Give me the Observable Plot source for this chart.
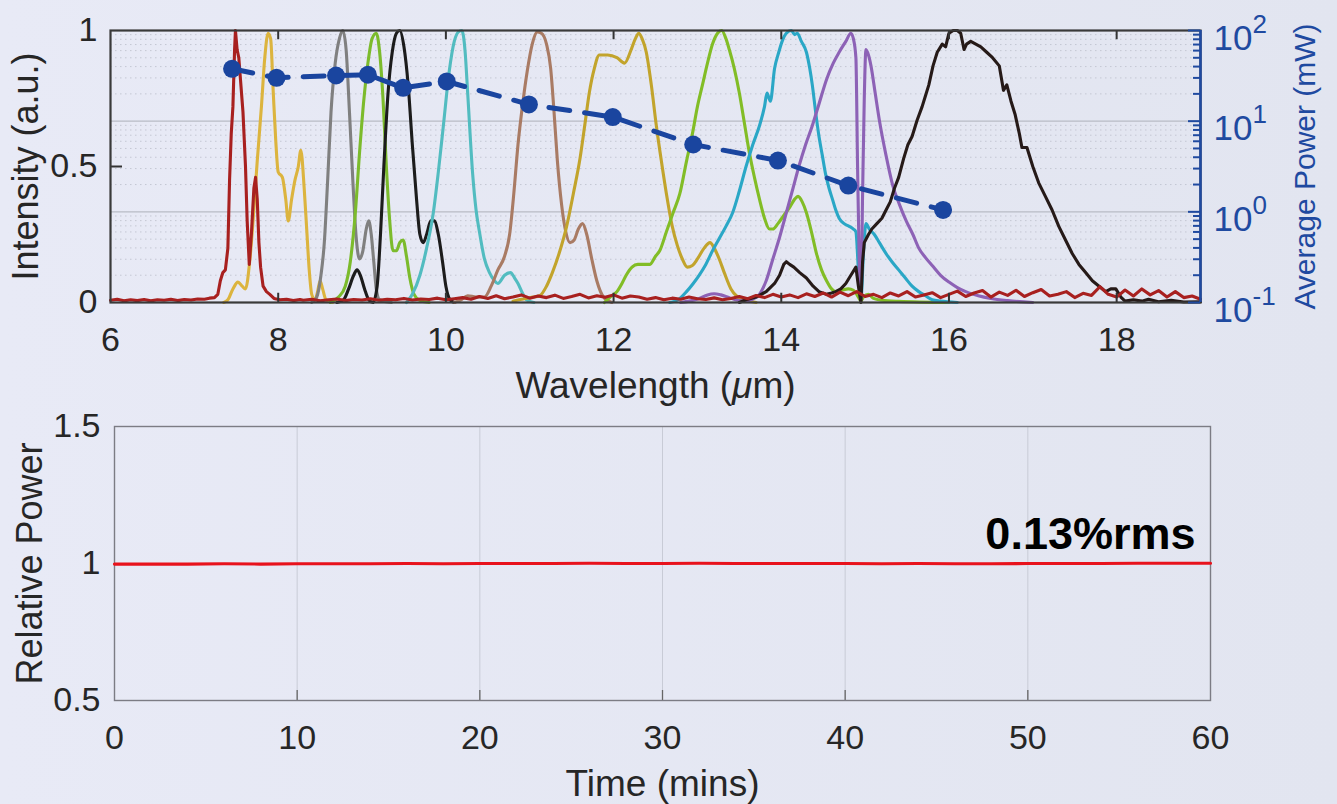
<!DOCTYPE html>
<html><head><meta charset="utf-8">
<script src="https://cdn.jsdelivr.net/npm/d3@7"></script>
<script src="https://cdn.jsdelivr.net/npm/@observablehq/plot@0.6"></script>
<style>
html,body{margin:0;padding:0}
body{width:1337px;height:804px;overflow:hidden;background:linear-gradient(to right,#e8eaf6,#e2e5f0);font-family:"Liberation Sans",Arial,sans-serif}
#wrap{position:relative;width:1337px;height:804px}
#wrap svg{position:absolute;left:0}
</style></head><body><div id="wrap"></div>
<script>
// ---------- data ----------
const wavelengthTicks = [6, 8, 10, 12, 14, 16, 18];
const intensityTicks = [0, 0.5, 1];
const powerTicks = [0.1, 1, 10, 100];
const powerExponents = ["-1", "0", "1", "2"];
const powerMinor = [0.2,0.3,0.4,0.5,0.6,0.7,0.8,0.9,2,3,4,5,6,7,8,9,20,30,40,50,60,70,80,90];
const powerWavelength = [7.45, 7.98, 8.69, 9.07, 9.49, 10.01, 10.99, 11.99, 12.95, 13.96, 14.80, 15.93];
const powerMW = [37.8, 30.1, 31.9, 32.5, 23.3, 27.4, 15.3, 11.1, 5.53, 3.68, 1.95, 1.05];

const timeTicks = [0, 10, 20, 30, 40, 50, 60];
const relTicks = [0.5, 1, 1.5];
const timeMins = [0,2,4,6,8,10,12,14,16,18,20,22,24,26,28,30,32,34,36,38,40,42,44,46,48,50,52,54,56,58,60];
const relPower = [0.998,0.998,0.998,0.999,0.998,0.999,0.999,0.999,1.000,0.999,1.000,1.000,1.000,1.001,1.000,1.000,1.001,1.000,1.000,1.000,1.000,0.999,1.000,0.999,0.999,1.000,1.000,1.000,1.001,1.001,1.001];
const rmsText = "0.13%rms";
const rmsPos = [59.18, 1.107];

const specYellow = [[7.35,0],[7.40,0.01],[7.46,0.05],[7.52,0.075],[7.57,0.06],[7.61,0.05],[7.66,0.15],[7.70,0.30],[7.75,0.52],[7.80,0.72],[7.84,0.90],[7.88,0.99],[7.91,0.97],[7.94,0.78],[7.97,0.60],[8.00,0.48],[8.05,0.46],[8.09,0.38],[8.12,0.30],[8.16,0.38],[8.20,0.45],[8.24,0.50],[8.27,0.56],[8.31,0.42],[8.34,0.27],[8.37,0.12],[8.40,0.03],[8.44,0.01],[8.47,0.04],[8.50,0.08],[8.53,0.05],[8.57,0.01],[8.65,0]];
const specGray = [[8.40,0],[8.46,0.02],[8.51,0.10],[8.55,0.22],[8.59,0.45],[8.63,0.70],[8.68,0.88],[8.73,0.97],[8.77,1.0],[8.81,0.93],[8.85,0.70],[8.89,0.45],[8.93,0.24],[8.97,0.16],[9.01,0.19],[9.05,0.27],[9.08,0.30],[9.11,0.25],[9.14,0.15],[9.17,0.05],[9.21,0.01],[9.35,0]];
const specLime = [[8.62,0],[8.72,0.02],[8.80,0.06],[8.86,0.15],[8.92,0.33],[8.97,0.55],[9.02,0.74],[9.07,0.88],[9.12,0.97],[9.17,0.99],[9.21,0.92],[9.25,0.75],[9.29,0.50],[9.33,0.30],[9.37,0.19],[9.41,0.19],[9.45,0.22],[9.49,0.23],[9.53,0.17],[9.57,0.09],[9.62,0.03],[9.68,0.01],[9.80,0]];
const specBlack = [[8.70,0],[8.78,0.01],[8.84,0.05],[8.90,0.10],[8.94,0.12],[8.98,0.10],[9.03,0.05],[9.08,0.01],[9.13,0],[9.18,0.06],[9.22,0.25],[9.26,0.50],[9.31,0.77],[9.36,0.92],[9.41,0.99],[9.45,1.0],[9.50,0.94],[9.55,0.80],[9.60,0.58],[9.65,0.38],[9.69,0.25],[9.73,0.22],[9.77,0.25],[9.82,0.30],[9.86,0.30],[9.91,0.25],[9.96,0.15],[10.00,0.06],[10.05,0.01],[10.10,0]];
const specTeal = [[9.53,0],[9.60,0.03],[9.69,0.10],[9.77,0.20],[9.85,0.33],[9.91,0.48],[9.97,0.65],[10.04,0.85],[10.10,0.96],[10.15,0.995],[10.19,1.0],[10.23,0.92],[10.26,0.77],[10.32,0.47],[10.36,0.34],[10.40,0.26],[10.46,0.16],[10.52,0.11],[10.58,0.08],[10.62,0.07],[10.70,0.10],[10.77,0.11],[10.82,0.09],[10.86,0.07],[10.92,0.03],[10.96,0.01],[11.05,0]];
const specBrown = [[10.10,0],[10.18,0.01],[10.26,0.025],[10.36,0.02],[10.46,0.02],[10.54,0.06],[10.62,0.12],[10.70,0.17],[10.76,0.25],[10.81,0.40],[10.86,0.58],[10.92,0.74],[10.97,0.85],[11.03,0.95],[11.09,0.995],[11.14,0.99],[11.20,0.95],[11.25,0.86],[11.29,0.70],[11.33,0.52],[11.38,0.36],[11.43,0.26],[11.48,0.22],[11.53,0.23],[11.58,0.27],[11.63,0.29],[11.68,0.25],[11.74,0.16],[11.80,0.08],[11.88,0.02],[11.98,0]];
const specOlive = [[10.80,0.005],[10.95,0.015],[11.04,0.02],[11.12,0.025],[11.20,0.06],[11.27,0.11],[11.35,0.18],[11.44,0.28],[11.52,0.40],[11.60,0.53],[11.66,0.66],[11.71,0.77],[11.77,0.86],[11.83,0.91],[11.93,0.91],[12.04,0.90],[12.13,0.88],[12.21,0.93],[12.26,0.97],[12.30,0.99],[12.34,0.97],[12.39,0.92],[12.45,0.80],[12.51,0.65],[12.57,0.52],[12.63,0.40],[12.70,0.28],[12.76,0.21],[12.82,0.16],[12.88,0.13],[12.94,0.136],[13.00,0.16],[13.08,0.20],[13.15,0.22],[13.20,0.20],[13.26,0.16],[13.32,0.11],[13.40,0.05],[13.48,0.02],[13.56,0.01],[13.70,0]];
const specGreen = [[11.89,0],[11.96,0.02],[12.04,0.04],[12.10,0.07],[12.15,0.10],[12.22,0.13],[12.29,0.14],[12.36,0.14],[12.43,0.14],[12.50,0.17],[12.55,0.19],[12.63,0.26],[12.71,0.33],[12.79,0.40],[12.87,0.52],[12.94,0.62],[13.00,0.72],[13.06,0.80],[13.12,0.88],[13.18,0.95],[13.24,0.99],[13.29,1.0],[13.34,0.97],[13.38,0.93],[13.44,0.86],[13.50,0.77],[13.56,0.66],[13.62,0.55],[13.68,0.46],[13.74,0.38],[13.80,0.31],[13.86,0.27],[13.90,0.27],[13.96,0.29],[14.03,0.32],[14.10,0.35],[14.16,0.38],[14.20,0.39],[14.25,0.37],[14.30,0.33],[14.36,0.26],[14.42,0.18],[14.48,0.12],[14.54,0.08],[14.60,0.05],[14.65,0.04],[14.72,0.045],[14.80,0.05],[14.86,0.045],[14.92,0.02],[14.95,0.005],[14.98,0.02],[15.04,0.03],[15.10,0.015],[15.20,0.008],[15.40,0.004],[16.0,0]];
const specCyan = [[12.67,0],[12.77,0.01],[12.87,0.04],[12.95,0.07],[13.02,0.10],[13.10,0.14],[13.18,0.19],[13.26,0.235],[13.34,0.28],[13.42,0.33],[13.50,0.41],[13.58,0.50],[13.66,0.58],[13.74,0.65],[13.80,0.72],[13.83,0.77],[13.87,0.74],[13.92,0.86],[13.97,0.92],[14.01,0.96],[14.06,0.99],[14.12,1.0],[14.16,0.985],[14.19,0.99],[14.24,0.96],[14.30,0.92],[14.34,0.86],[14.37,0.80],[14.41,0.70],[14.45,0.61],[14.49,0.54],[14.53,0.47],[14.57,0.42],[14.61,0.38],[14.65,0.34],[14.69,0.31],[14.75,0.29],[14.81,0.28],[14.86,0.27],[14.89,0.26],[14.92,0.12],[14.95,0.01],[14.98,0.18],[15.01,0.29],[15.05,0.27],[15.11,0.25],[15.17,0.22],[15.25,0.18],[15.32,0.15],[15.40,0.12],[15.48,0.09],[15.56,0.06],[15.64,0.04],[15.72,0.025],[15.80,0.01],[15.90,0.005],[16.1,0]];
const specPurple = [[12.80,0],[12.90,0.005],[13.02,0.015],[13.12,0.028],[13.20,0.032],[13.28,0.028],[13.38,0.018],[13.48,0.008],[13.58,0.005],[13.66,0.012],[13.74,0.03],[13.82,0.08],[13.90,0.16],[13.98,0.24],[14.06,0.33],[14.14,0.42],[14.21,0.50],[14.29,0.58],[14.37,0.65],[14.45,0.73],[14.54,0.82],[14.62,0.88],[14.69,0.92],[14.77,0.96],[14.83,0.99],[14.86,0.97],[14.89,0.90],[14.91,0.50],[14.93,0.15],[14.95,0.01],[14.97,0.40],[14.99,0.75],[15.01,0.93],[15.04,0.91],[15.07,0.87],[15.12,0.77],[15.17,0.67],[15.25,0.54],[15.33,0.43],[15.41,0.36],[15.49,0.30],[15.57,0.25],[15.64,0.20],[15.72,0.165],[15.80,0.136],[15.90,0.10],[16.00,0.075],[16.10,0.055],[16.20,0.04],[16.35,0.025],[16.50,0.015],[16.70,0.007],[17.0,0]];
const specDark = [[13.50,0],[13.58,0.01],[13.70,0.02],[13.82,0.04],[13.92,0.07],[13.98,0.10],[14.03,0.14],[14.06,0.15],[14.10,0.14],[14.15,0.13],[14.22,0.11],[14.30,0.09],[14.38,0.06],[14.45,0.04],[14.54,0.03],[14.60,0.035],[14.65,0.04],[14.71,0.05],[14.77,0.07],[14.83,0.10],[14.89,0.13],[14.92,0.06],[14.95,0.0],[14.97,0.15],[14.99,0.22],[15.04,0.25],[15.08,0.27],[15.14,0.29],[15.20,0.31],[15.25,0.34],[15.30,0.37],[15.35,0.42],[15.40,0.46],[15.46,0.53],[15.51,0.58],[15.56,0.61],[15.62,0.67],[15.68,0.72],[15.72,0.76],[15.76,0.80],[15.81,0.87],[15.86,0.92],[15.92,0.95],[15.96,0.94],[16.00,0.99],[16.05,1.0],[16.10,1.0],[16.14,0.99],[16.18,0.93],[16.21,0.95],[16.26,0.96],[16.32,0.95],[16.38,0.94],[16.45,0.92],[16.52,0.90],[16.60,0.87],[16.65,0.78],[16.69,0.80],[16.74,0.74],[16.79,0.69],[16.84,0.62],[16.87,0.57],[16.93,0.57],[17.00,0.50],[17.07,0.44],[17.15,0.39],[17.23,0.34],[17.31,0.28],[17.39,0.23],[17.47,0.18],[17.55,0.14],[17.63,0.11],[17.71,0.08],[17.79,0.06],[17.87,0.04],[17.93,0.05],[17.99,0.05],[18.05,0.02],[18.10,0.005],[18.20,0.01],[18.30,0.005],[18.38,0.012],[18.50,0.003],[18.65,0.008],[18.80,0.002],[19.0,0.003]];
const specRed = [[6.00,0.008],[6.08,0.012],[6.16,0.006],[6.24,0.010],[6.32,0.007],[6.40,0.011],[6.48,0.006],[6.56,0.010],[6.64,0.008],[6.72,0.012],[6.80,0.007],[6.88,0.011],[6.96,0.009],[7.04,0.013],[7.12,0.012],[7.18,0.016],[7.24,0.018],[7.28,0.03],[7.31,0.08],[7.34,0.11],[7.37,0.12],[7.40,0.20],[7.42,0.45],[7.44,0.62],[7.46,0.72],[7.48,0.93],[7.49,1.0],[7.51,0.93],[7.53,0.90],[7.55,0.82],[7.58,0.70],[7.61,0.50],[7.63,0.30],[7.655,0.14],[7.68,0.25],[7.71,0.42],[7.73,0.46],[7.75,0.38],[7.77,0.22],[7.79,0.13],[7.82,0.06],[7.86,0.04],[7.90,0.03],[7.95,0.015],[8.02,0.010],[8.10,0.012],[8.18,0.007],[8.26,0.011],
[8.30,0.008],[8.40,0.012],[8.50,0.006],[8.60,0.010],[8.70,0.013],[8.80,0.007],[8.90,0.011],[9.00,0.009],[9.10,0.014],[9.20,0.008],[9.30,0.012],[9.40,0.010],[9.50,0.015],[9.60,0.009],[9.70,0.013],[9.80,0.011],[9.90,0.016],[10.00,0.010],[10.10,0.014],[10.20,0.018],[10.30,0.012],[10.40,0.022],[10.50,0.015],[10.60,0.025],[10.70,0.014],[10.80,0.020],[10.90,0.028],[11.00,0.016],[11.10,0.024],[11.20,0.018],[11.30,0.027],[11.40,0.015],[11.50,0.022],[11.60,0.030],[11.70,0.017],[11.80,0.025],[11.90,0.019],[12.00,0.028],[12.10,0.016],[12.20,0.024],[12.30,0.020],[12.40,0.012],[12.50,0.018],[12.60,0.010],[12.70,0.016],[12.80,0.012],[12.90,0.020],[13.00,0.014],[13.10,0.011],[13.20,0.017],[13.30,0.010],[13.40,0.015],[13.50,0.022],[13.60,0.014],[13.70,0.026],[13.80,0.018],[13.90,0.030],[14.00,0.020],[14.10,0.028],[14.20,0.018],[14.30,0.032],[14.40,0.022],[14.50,0.035],[14.60,0.020],[14.70,0.038],[14.80,0.025],[14.90,0.040],[15.00,0.022],[15.10,0.030],[15.20,0.018],[15.30,0.035],[15.40,0.024],[15.50,0.040],[15.60,0.020],[15.70,0.028],[15.80,0.036],[15.90,0.018],[16.00,0.030],[16.10,0.042],[16.20,0.022],[16.30,0.035],[16.40,0.044],[16.50,0.020],[16.60,0.038],[16.70,0.026],[16.80,0.045],[16.90,0.022],[17.00,0.036],[17.10,0.048],[17.20,0.024],[17.30,0.030],[17.40,0.040],[17.50,0.018],[17.60,0.034],[17.70,0.026],[17.80,0.058],[17.90,0.030],[18.00,0.020],[18.10,0.046],[18.20,0.024],[18.30,0.050],[18.40,0.028],[18.50,0.044],[18.60,0.020],[18.70,0.040],[18.80,0.018],[18.90,0.024],[19.00,0.012]];

const spectra = [specYellow, specGray, specLime, specBlack, specTeal, specBrown, specOlive, specGreen, specCyan, specPurple, specDark, specRed];
const spectrumColors = ["#dcb43e", "#808080", "#7cbb2c", "#1c1c1c", "#52bcc0", "#a97b64", "#c2a42c", "#82bd26", "#2aa7c6", "#8d62b6", "#261a18", "#a8201f"];
const spectrumCurves = ["monotone-x","monotone-x","monotone-x","monotone-x","monotone-x","monotone-x","monotone-x","monotone-x","monotone-x","monotone-x","linear","linear"];

// ---------- layout ----------
const W = 1337;
const font = "'Liberation Sans', Arial, sans-serif";
const ink = "#262626";
const blue = "#1f4aa0";
const topDims = {width: W, height: 410, marginLeft: 110, marginRight: 137, marginTop: 30, marginBottom: 108};
const baseStyle = {background: "transparent", fontFamily: font, fontSize: "34px", color: ink, overflow: "visible"};
const wrap = document.getElementById("wrap");
function place(svg, top) { svg.style.top = top + "px"; wrap.appendChild(svg); }

const powerData = powerWavelength.map((w, i) => ({w, p: powerMW[i]}));

// layer 1: right-axis grid
place(Plot.plot({
  ...topDims, style: baseStyle,
  x: {domain: [6, 19], axis: null},
  y: {type: "log", domain: [0.1, 100], axis: null},
  marks: [
    Plot.ruleY(powerMinor, {stroke: "#c4c7d3", strokeWidth: 1, strokeDasharray: "1.5,3.5"}),
    Plot.ruleY([1, 10], {stroke: "#b8bbc5", strokeWidth: 1.3})
  ]
}), 0);

// layer 2: spectra, left axis and wavelength axis
place(Plot.plot({
  ...topDims, style: baseStyle,
  x: {domain: [6, 19]},
  y: {domain: [0, 1]},
  marks: [
    ...spectra.map((s, i) => Plot.line(s, {x: d => d[0], y: d => d[1], stroke: spectrumColors[i], strokeWidth: 3.1, curve: spectrumCurves[i]})),
    Plot.ruleX(wavelengthTicks.slice(1), {y1: 0, y2: 0.034, stroke: "#333", strokeWidth: 2}),
    Plot.ruleX(wavelengthTicks.slice(1), {y1: 0.966, y2: 1, stroke: "#333", strokeWidth: 2}),
    Plot.ruleY([0.5], {x1: 6, x2: 6 + 12 / 84, stroke: "#333", strokeWidth: 2}),
    Plot.frame({stroke: "#3a3a3a", strokeWidth: 2.2}),
    Plot.axisX({ticks: wavelengthTicks, tickSize: 0, tickPadding: 24, label: null, fontSize: 34}),
    Plot.axisY({ticks: intensityTicks, tickSize: 0, tickPadding: 13, label: null, fontSize: 34, tickFormat: d => String(d)}),
    Plot.text(["Intensity (a.u.)"], {frameAnchor: "left", rotate: -90, textAnchor: "middle", lineAnchor: "middle", dx: -84, fontSize: 36, fill: ink}),
    Plot.text(["Wavelength (μm)"], {frameAnchor: "bottom", textAnchor: "middle", lineAnchor: "middle", dy: 84, fontSize: 37, fill: ink})
  ]
}), 0);

// layer 3: average power (right log axis)
place(Plot.plot({
  ...topDims, style: baseStyle,
  x: {domain: [6, 19], axis: null},
  y: {type: "log", domain: [0.1, 100]},
  marks: [
    Plot.ruleY(powerMinor, {x1: 19 - 7 / 84, x2: 19, stroke: blue, strokeWidth: 2}),
    Plot.ruleY(powerTicks, {x1: 19 - 12 / 84, x2: 19, stroke: blue, strokeWidth: 2}),
    Plot.ruleX([19], {stroke: blue, strokeWidth: 2.5}),
    Plot.line(powerData, {x: "w", y: "p", stroke: "#1a459f", strokeWidth: 5, strokeDasharray: "21,15"}),
    Plot.dot(powerData, {x: "w", y: "p", r: 9, fill: "#1a459f", stroke: "none"}),
    Plot.axisY({anchor: "right", ticks: powerTicks, tickSize: 0, tickPadding: 13, tickFormat: () => "10", label: null, fontSize: 35, fill: blue, dy: 8}),
    Plot.text(powerTicks, {y: d => d, text: (d, i) => powerExponents[i], frameAnchor: "right", dx: 52, dy: -6, textAnchor: "start", lineAnchor: "middle", fontSize: 26, fill: blue}),
    Plot.text(["Average Power (mW)"], {frameAnchor: "right", rotate: -90, textAnchor: "middle", lineAnchor: "middle", dx: 105, fontSize: 30, fill: blue})
  ]
}), 0);

// bottom panel: relative power vs time
const timeData = timeMins.map((t, i) => ({t, r: relPower[i]}));
place(Plot.plot({
  width: W, height: 404, marginLeft: 114, marginRight: 127, marginTop: 26, marginBottom: 104,
  style: baseStyle,
  x: {domain: [0, 60]},
  y: {domain: [0.5, 1.5]},
  marks: [
    Plot.ruleX(timeTicks.slice(1, -1), {stroke: "#c8cbd6", strokeWidth: 1}),
    Plot.ruleX(timeTicks.slice(1, -1), {y1: 0.5, y2: 0.5 + 10 / 274, stroke: "#666", strokeWidth: 1.3}),
    Plot.frame({stroke: "#7c7c84", strokeWidth: 1.4}),
    Plot.line(timeData, {x: "t", y: "r", stroke: "#e8121c", strokeWidth: 3.2}),
    Plot.axisX({ticks: timeTicks, tickSize: 0, tickPadding: 24, label: null, fontSize: 34}),
    Plot.axisY({ticks: relTicks, tickSize: 0, tickPadding: 14, label: null, fontSize: 34, tickFormat: d => String(d)}),
    Plot.text(["Relative Power"], {frameAnchor: "left", rotate: -90, textAnchor: "middle", lineAnchor: "middle", dx: -84, fontSize: 36, fill: ink}),
    Plot.text(["Time (mins)"], {frameAnchor: "bottom", textAnchor: "middle", lineAnchor: "middle", dy: 84, fontSize: 37, fill: ink}),
    Plot.text([rmsText], {x: () => rmsPos[0], y: () => rmsPos[1], textAnchor: "end", lineAnchor: "middle", fontSize: 45, fontWeight: "bold", fill: "#000"})
  ]
}), 400);

// italic mu in the wavelength label
document.querySelectorAll("#wrap text").forEach(t => {
  if (t.textContent === "Wavelength (μm)") {
    t.textContent = "";
    const ns = "http://www.w3.org/2000/svg";
    const a = document.createElementNS(ns, "tspan"); a.textContent = "Wavelength (";
    const b = document.createElementNS(ns, "tspan"); b.textContent = "μ"; b.setAttribute("font-style", "italic");
    const c = document.createElementNS(ns, "tspan"); c.textContent = "m)";
    t.append(a, b, c);
  }
});
</script></body></html>
